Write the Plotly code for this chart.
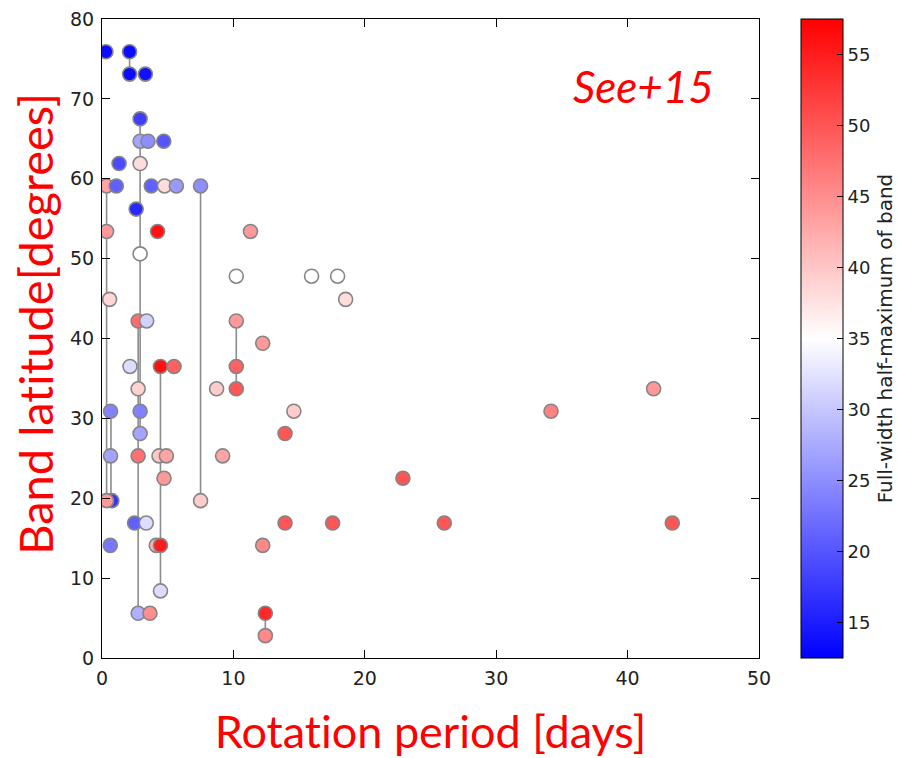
import plotly.graph_objects as go
import numpy as np

# Rotation period [days]
period = [0.3, 2.1, 2.1, 3.3,
          2.9, 2.9, 3.5, 4.7, 1.3, 2.9,
          0.35, 1.09, 3.75, 4.76, 5.66, 7.5, 2.6,
          0.35, 4.23, 11.3, 2.9,
          10.22, 15.95, 17.93, 0.58, 18.54,
          2.75, 3.4, 10.22, 12.23,
          2.13, 4.45, 5.48, 10.22,
          2.75, 8.72, 10.22,
          0.65, 2.9, 14.6, 34.17, 41.98,
          2.9, 13.93,
          0.65, 2.75, 4.34, 4.9, 9.18,
          4.72, 22.9,
          0.75, 0.35, 7.5,
          2.48, 3.37, 13.93, 17.55, 26.05, 43.4,
          0.63, 4.13, 4.45, 12.23,
          4.45,
          2.75, 3.65, 12.43, 12.43]

# Band latitude [degrees]
latitude = [75.9, 75.9, 73.1, 73.1,
            67.5, 64.7, 64.7, 64.7, 61.9, 61.9,
            59.1, 59.1, 59.1, 59.1, 59.1, 59.1, 56.2,
            53.4, 53.4, 53.4, 50.6,
            47.8, 47.8, 47.8, 44.9, 44.9,
            42.2, 42.2, 42.2, 39.4,
            36.5, 36.5, 36.5, 36.5,
            33.7, 33.7, 33.7,
            30.9, 30.9, 30.9, 30.9, 33.7,
            28.1, 28.1,
            25.3, 25.3, 25.3, 25.3, 25.3,
            22.5, 22.5,
            19.7, 19.7, 19.7,
            16.9, 16.9, 16.9, 16.9, 16.9, 16.9,
            14.1, 14.1, 14.1, 14.1,
            8.4,
            5.6, 5.6, 5.6, 2.8]

# Full-width half-maximum of band [degrees]
fwhm = [13.5, 13.5, 13.5, 14,
        18, 27, 25, 20, 19, 38,
        43, 21, 21, 38, 26, 25, 16,
        44, 56, 44, 35,
        35, 35, 35, 38.5, 38,
        48, 31, 44, 44,
        32, 56, 49, 49,
        39, 39.5, 50,
        24, 24, 39.5, 46, 44,
        27, 50,
        27, 47.5, 40, 43, 43,
        44, 50,
        17, 44, 39.5,
        21, 32, 50, 50, 50, 50,
        23, 42, 55, 45.5,
        32,
        28, 45, 54, 45.5]

# Star id linking bands of the same star (0 = single band)
star = [0, 1, 1, 0,
        2, 2, 0, 0, 0, 2,
        3, 0, 0, 0, 0, 4, 0,
        3, 0, 0, 2,
        0, 0, 0, 0, 0,
        5, 0, 6, 0,
        0, 7, 0, 6,
        5, 0, 6,
        8, 2, 0, 0, 0,
        2, 0,
        8, 5, 0, 0, 0,
        0, 0,
        8, 3, 4,
        0, 0, 0, 0, 0, 0,
        0, 0, 7, 0,
        7,
        5, 0, 9, 9]

cmin, cmax = 12.5, 57.5
bwr = [[0.0, "rgb(0,0,255)"], [0.5, "rgb(255,255,255)"], [1.0, "rgb(255,0,0)"]]

fig = go.Figure()

p = np.array(period); la = np.array(latitude); st = np.array(star)
for sid in sorted(set(star) - {0}):
    m = st == sid
    xs = float(p[m].mean())
    fig.add_trace(go.Scatter(x=[xs, xs], y=[la[m].min(), la[m].max()], mode="lines",
                             line=dict(color="#8c8c8c", width=1.6),
                             showlegend=False, hoverinfo="skip"))

fig.add_trace(go.Scatter(
    x=period, y=latitude, mode="markers",
    marker=dict(size=14, color=fwhm, colorscale=bwr, cmin=cmin, cmax=cmax,
                line=dict(color="#858585", width=1.6),
                colorbar=dict(
                    x=1.064, xanchor="left", xpad=0, y=0.5, yanchor="middle",
                    ypad=0, len=1.0,
                    thickness=42, outlinecolor="black", outlinewidth=1,
                    ticks="inside", ticklen=6, tickcolor="black",
                    tickvals=[15, 20, 25, 30, 35, 40, 45, 50, 55],
                    tickfont=dict(family="DejaVu Sans", size=18, color="#222"),
                    title=dict(text="Full-width half-maximum of band", side="right",
                               font=dict(family="DejaVu Sans", size=20, color="#222")),
                )),
    showlegend=False))

axis_common = dict(showline=True, linecolor="black", linewidth=1.2, mirror="ticks",
                   ticks="inside", ticklen=8, tickcolor="black", tickwidth=1.2,
                   showgrid=False, zeroline=False, ticklabelstandoff=3,
                   tickfont=dict(family="DejaVu Sans", size=19, color="#222"))

ZWNJ = "\u200c"
fig.update_layout(
    width=897, height=758,
    margin=dict(l=102, r=138, t=19, b=100, autoexpand=False),
    plot_bgcolor="white", paper_bgcolor="white",
    xaxis=dict(range=[0, 50], dtick=10,
               title=dict(text=f"Rotat{ZWNJ}ion period [days]", standoff=28,
                          font=dict(family="Lato", size=45, color="red")),
               **axis_common),
    yaxis=dict(range=[0, 80], dtick=10, **axis_common),
    annotations=[
        dict(text="<i>See+15</i>", xref="paper", yref="paper",
             x=0.934, y=0.895, xanchor="right", yanchor="middle", showarrow=False,
             font=dict(family="Lato", size=44, color="red")),
        dict(text=f"Band lat{ZWNJ}itude[degrees]", xref="paper", yref="paper",
             x=-0.102, y=0.523, xanchor="center", yanchor="middle", showarrow=False,
             textangle=-90, font=dict(family="Lato", size=47, color="red")),
    ],
)

fig.write_html("out.html")
